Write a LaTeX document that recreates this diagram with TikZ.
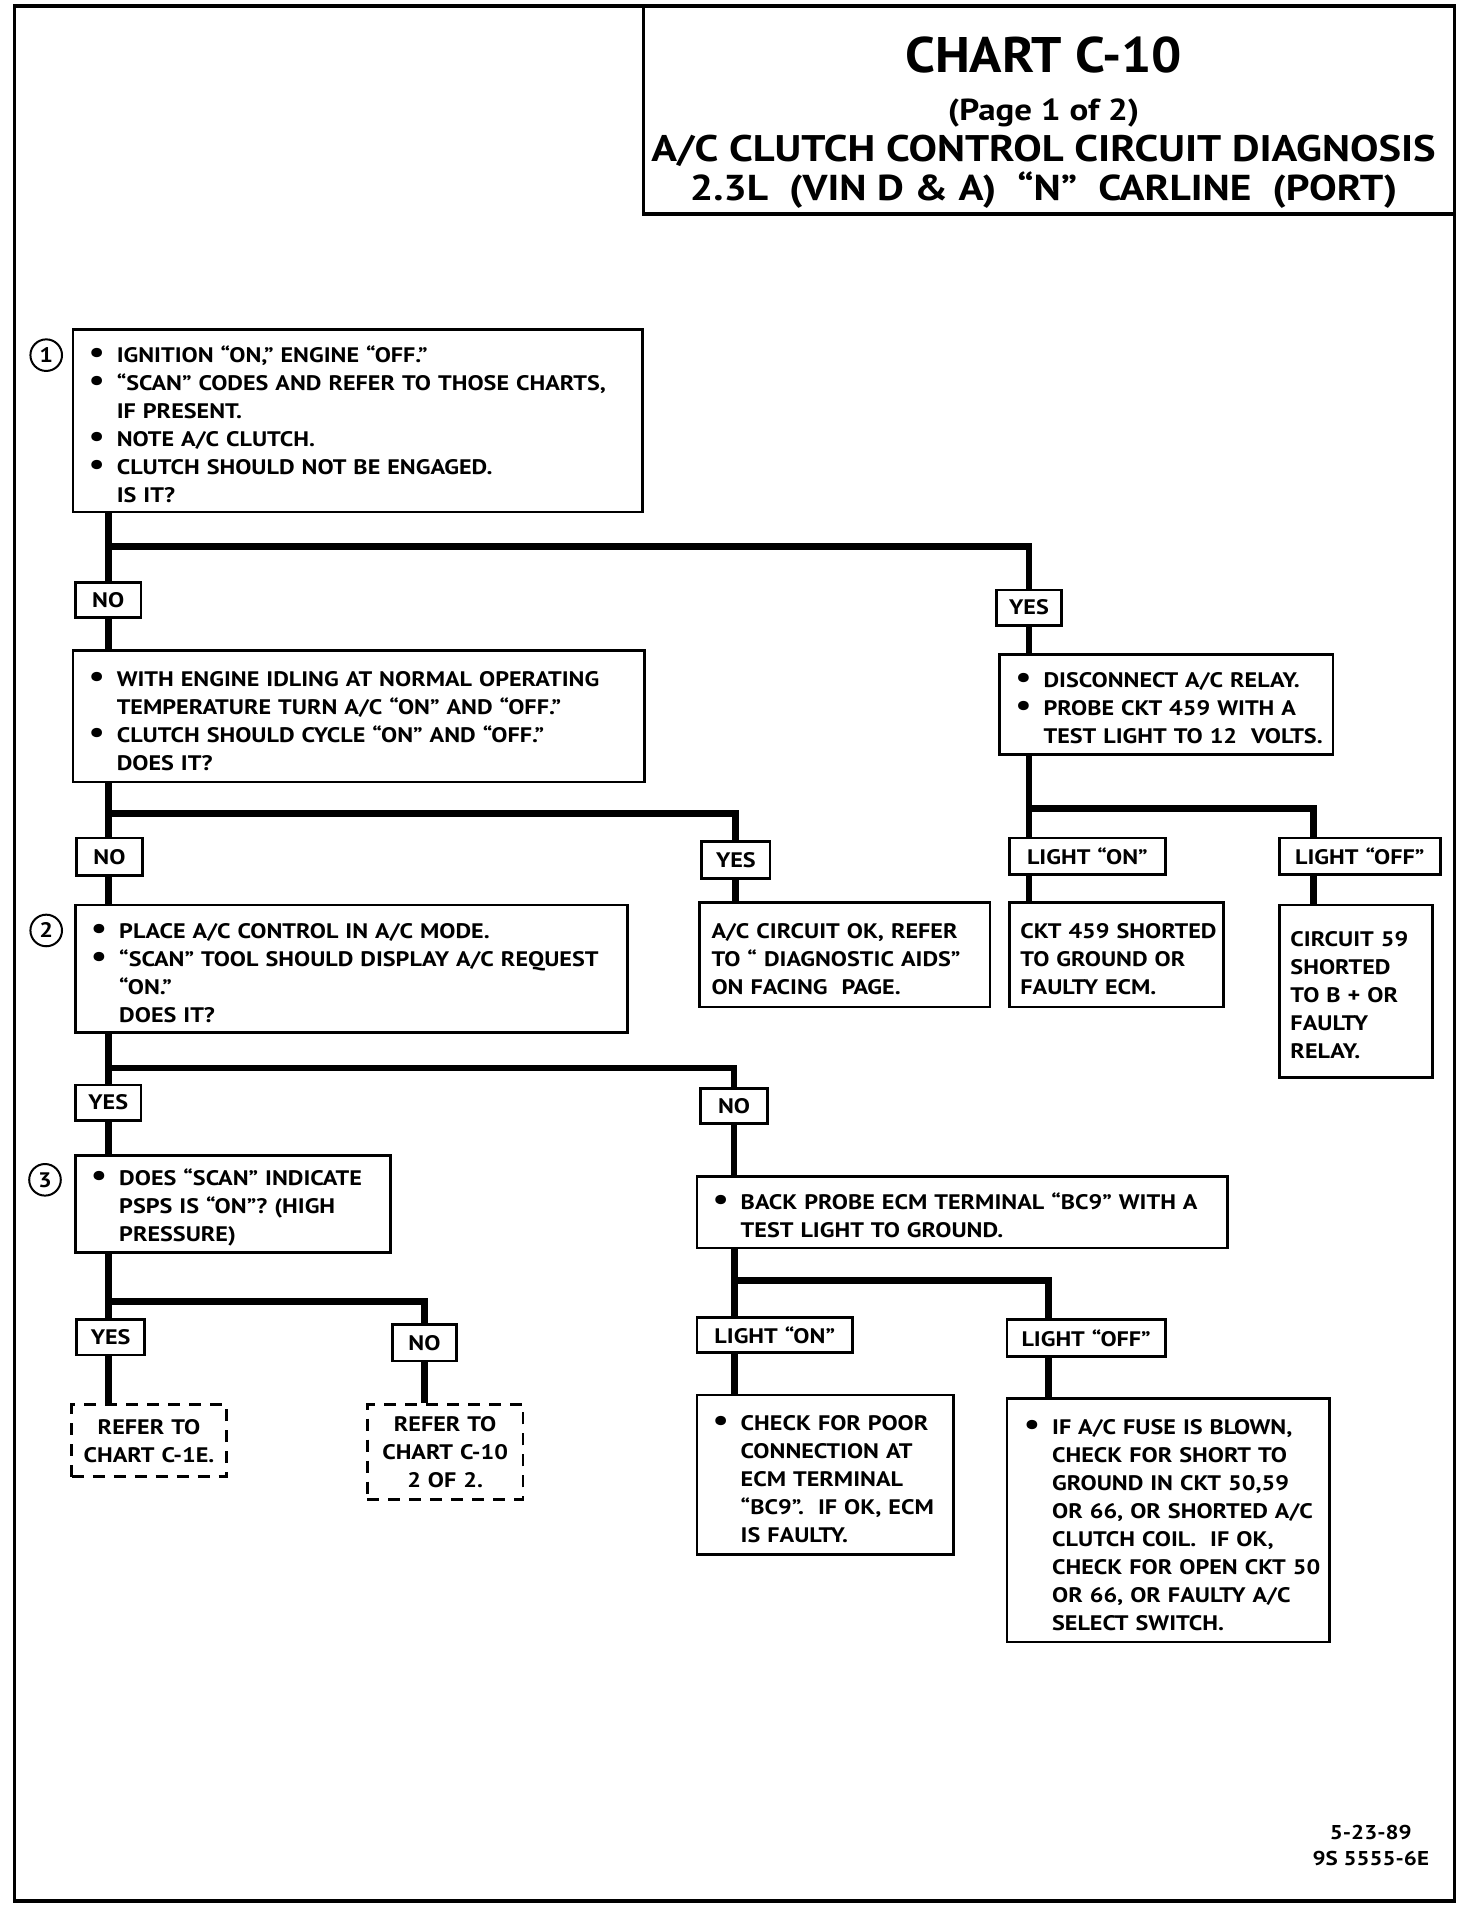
\documentclass[tikz,border=0pt]{standalone}
\usepackage{fontspec}
\setmainfont{PT Sans}[FakeStretch=1.15]
\newfontfamily\titlefont{PT Sans}[FakeStretch=1.07]
\usetikzlibrary{backgrounds}
\newlength\bw \setlength\bw{14pt}
\def\pd{0pt}
\newcommand\bl{\hspace*{\pd}\makebox[\bw][l]{\scalebox{1.45}{\textbullet}}}
\newcommand\nb{\hspace*{\pd}\hspace*{\bw}}
\newcommand\pp{\hspace*{\pd}}
\tikzset{
  rect/.code n args={5}{%
    \pgfmathsetlengthmacro\rw{(#3-#1)*0.60825pt}%
    \pgfmathsetlengthmacro\rh{(#4-#2)*0.60825pt}%
    \pgfmathsetlengthmacro\rt{(#3-#1-4)*0.60825pt}%
    \pgfmathsetlengthmacro\rp{2*0.60825pt}%
    \pgfmathsetlengthmacro\pdtmp{max(#5-2,0)*0.60825pt}%
    \global\let\pd\pdtmp
    \pgfmathsetmacro\rcx{(#1+#3)/2}%
    \pgfmathsetmacro\rcy{(#2+#4)/2}%
    \edef\tmp{\noexpand\tikzset{minimum width=\rw, minimum height=\rh, text width=\rt, inner xsep=\rp, at={(\rcx,\rcy)}}}\tmp},
  txt/.style={font=\bfseries\fontsize{10.5}{14}\selectfont},
  box/.style={txt, draw, line width=1.4pt, fill=white, inner ysep=0pt, align=left,
    execute at begin node={\rule{0pt}{11.8pt}}},
  lbl/.style={txt, draw, line width=1.4pt, fill=white, inner ysep=0pt, align=center},
  dbox/.style={txt, draw, line width=1.4pt, dash pattern=on 6pt off 4.5pt, fill=white, inner ysep=0pt, align=center},
  conn/.style={line width=3.4pt},
  num/.style={txt, draw, circle, line width=1pt, minimum size=15.8pt, inner sep=0pt}
}
\begin{document}
\begin{tikzpicture}[x=0.60825pt,y=-0.60825pt]
\useasboundingbox (0,0) rectangle (1210,1572);
\draw[line width=1.8pt] (12,5) rectangle (1196,1563);
% title
\node[draw, line width=1.6pt, fill=white, rect={529}{5}{1196}{176}{0}] (title) {};
\node[font=\titlefont\bfseries\fontsize{25}{30}\selectfont] (t1) at (858,45) {CHART C-10};
\node[font=\bfseries\fontsize{15.2}{18}\selectfont] (t2) at (858,93) {(Page 1 of 2)};
\node[font=\bfseries\fontsize{18.5}{22}\selectfont] (t3) at (858,124) {A/C CLUTCH CONTROL CIRCUIT DIAGNOSIS};
\node[font=\bfseries\fontsize{18}{22}\selectfont] (t4) at (858,156) {2.3L\ \ (VIN D \& A)\ \ “N”\ \ CARLINE\ \ (PORT)};
% numbers
\node[num] (n1) at (38,292) {1};
\node[num] (n2) at (38,765) {2};
\node[num] (n3) at (37,970) {3};
% boxes
\node[box, rect={60}{271}{528}{421}{13}] (b1) {\bl IGNITION “ON,” ENGINE “OFF.”\\
\bl “SCAN” CODES AND REFER TO THOSE CHARTS,\\
\nb IF PRESENT.\\
\bl NOTE A/C CLUTCH.\\
\bl CLUTCH SHOULD NOT BE ENGAGED.\\
\nb IS IT?};
\node[box, rect={60}{535}{530}{643}{13}] (b2) {\bl WITH ENGINE IDLING AT NORMAL OPERATING\\
\nb TEMPERATURE TURN A/C “ON” AND “OFF.”\\
\bl CLUTCH SHOULD CYCLE “ON” AND “OFF.”\\
\nb DOES IT?};
\node[box, rect={822}{538}{1096}{620}{13}] (r1) {\bl DISCONNECT A/C RELAY.\\
\bl PROBE CKT 459 WITH A\\
\nb TEST LIGHT TO 12\ \ VOLTS.};
\node[box, rect={62}{744}{516}{849}{13}] (b3) {\bl PLACE A/C CONTROL IN A/C MODE.\\
\bl “SCAN” TOOL SHOULD DISPLAY A/C REQUEST\\
\nb “ON.”\\
\nb DOES IT?};
\node[box, rect={575}{742}{814}{828}{10}] (ok) {\pp A/C CIRCUIT OK, REFER\\ \pp TO “ DIAGNOSTIC AIDS”\\ \pp ON FACING\ \ PAGE.};
\node[box, rect={830}{742}{1006}{828}{9}] (ckt) {\pp CKT 459 SHORTED\\ \pp TO GROUND OR\\ \pp FAULTY ECM.};
\node[box, rect={1052}{744}{1178}{886}{9}] (c59) {\pp CIRCUIT 59\\ \pp SHORTED\\ \pp TO B + OR\\ \pp FAULTY\\ \pp RELAY.};
\node[box, rect={62}{950}{321}{1030}{13}] (b4) {\bl DOES “SCAN” INDICATE\\
\nb PSPS IS “ON”? (HIGH\\
\nb PRESSURE)};
\node[box, rect={573}{967}{1009}{1026}{13}] (b5) {\bl BACK PROBE ECM TERMINAL “BC9” WITH A\\
\nb TEST LIGHT TO GROUND.};
\node[box, rect={573}{1147}{784}{1278}{13}] (b6) {\bl CHECK FOR POOR\\
\nb CONNECTION AT\\
\nb ECM TERMINAL\\
\nb “BC9”.\ \ IF OK, ECM\\
\nb IS FAULTY.};
\node[box, rect={828}{1150}{1093}{1350}{14}] (b7) {\bl IF A/C FUSE IS BLOWN,\\
\nb CHECK FOR SHORT TO\\
\nb GROUND IN CKT 50,59\\
\nb OR 66, OR SHORTED A/C\\
\nb CLUTCH COIL.\ \ IF OK,\\
\nb CHECK FOR OPEN CKT 50\\
\nb OR 66, OR FAULTY A/C\\
\nb SELECT SWITCH.};
\node[dbox, rect={59}{1155}{186}{1214}{0}] (d1) {REFER TO\\ CHART C-1E.};
\node[dbox, rect={302}{1155}{430}{1233}{0}] (d2) {REFER TO\\ CHART C-10\\ 2 OF 2.};
% labels
\node[lbl, rect={62}{479}{116}{508}{0}] (no1) {NO};
\node[lbl, rect={819}{485}{873}{514}{0}] (yes1) {YES};
\node[lbl, rect={63}{689}{117}{720}{0}] (no2) {NO};
\node[lbl, rect={577}{692}{633}{722}{0}] (yes2) {YES};
\node[lbl, rect={830}{689}{958}{719}{0}] (lon1) {LIGHT “ON”};
\node[lbl, rect={1052}{689}{1184}{719}{0}] (loff1) {LIGHT “OFF”};
\node[lbl, rect={62}{892}{116}{921}{0}] (yes3) {YES};
\node[lbl, rect={576}{895}{631}{924}{0}] (no3) {NO};
\node[lbl, rect={63}{1085}{119}{1114}{0}] (yes4) {YES};
\node[lbl, rect={323}{1089}{375}{1119}{0}] (no4) {NO};
\node[lbl, rect={573}{1083}{701}{1112}{0}] (lon2) {LIGHT “ON”};
\node[lbl, rect={828}{1085}{958}{1115}{0}] (loff2) {LIGHT “OFF”};
% footer
\node[txt, align=center, font=\bfseries\fontsize{10}{13}\selectfont] (foot) at (1127,1517) {5-23-89\\9S 5555-6E};
% junctions
\coordinate (jA) at (89,449);
\coordinate (jB) at (89,669);
\coordinate (jC) at (846,665);
\coordinate (jC2) at (1080,665);
\coordinate (jD) at (89,878);
\coordinate (jE) at (89,1070);
\coordinate (jF) at (604,1053);
\coordinate (jF2) at (862,1053);
\begin{pgfonlayer}{background}
\draw[conn] (b1.south -| jA) -- (b2.north -| jA);
\draw[conn] (jA) -| (r1.north -| yes1);
\draw[conn] (b2.south -| jB) -- (b3.north -| jB);
\draw[conn] (jB) -| (ok.north -| yes2);
\draw[conn] (r1.south -| jC) -- (ckt.north -| jC);
\draw[conn] (jC) -| (c59.north -| jC2);
\draw[conn] (b3.south -| jD) -- (b4.north -| jD);
\draw[conn] (jD) -| (b5.north -| no3);
\draw[conn] (b4.south -| jE) -- (d1.north -| jE);
\draw[conn] (jE) -| (d2.north -| no4);
\draw[conn] (b5.south -| jF) -- (b6.north -| jF);
\draw[conn] (jF) -| (b7.north -| jF2);
\end{pgfonlayer}
\end{tikzpicture}
\end{document}
